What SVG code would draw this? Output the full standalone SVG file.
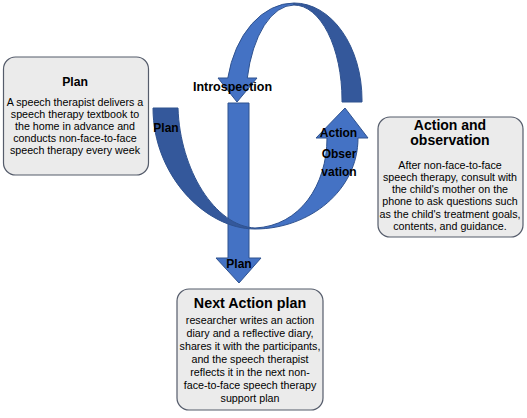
<svg xmlns="http://www.w3.org/2000/svg" width="527" height="418" viewBox="0 0 527 418">
<style>
.box{fill:#EBEBEB;stroke:#555C6B;stroke-width:1.2}
.lt{fill:#4472C4;stroke:#2F528F;stroke-width:1}
.dk{fill:#34589B;stroke:#2F528F;stroke-width:1}
text{font-family:"Liberation Sans",Arial,sans-serif;fill:#000;text-anchor:middle}
.t{font-weight:bold}
.b{font-size:10.7px}
.lbl{font-weight:bold;font-size:12px}
</style>
<rect width="527" height="418" fill="#fff"/>
<g id="connectors">
  <path class="lt" d="M228,103 H249 V258 H261 L239,283 L216,258 H228 Z"/>
  <path class="lt" d="M294,3 A68,97 0 0 0 227.8,78 L218,78 L237,102 L257,78 L247.3,78 A48,95 0 0 1 294,5 Z"/>
  <path class="dk" d="M294,3 A68,97 0 0 1 362,100 L362,102 L342,102 L342,100 A48,95 0 0 0 294,5 Z"/>
  <path class="dk" d="M153,108 L178,108 C180,170 215,226 255,228 L255,229 C205,229 153,175 153,108 Z"/>
  <path class="lt" d="M255,229 C310,229 358,190 358,138 L368,138 L345,108 L316,138 L327,138 C327,185 300,226 255,228 Z"/>
  <text class="lbl" x="232.5" y="90.5" style="font-size:12.5px">Introspection</text>
  <text class="lbl" x="166" y="131.5">Plan</text>
  <text class="lbl" x="338.5" y="137">Action</text>
  <text class="lbl" x="339" y="157.5">Obser</text>
  <text class="lbl" x="339" y="175.5">vation</text>
  <text class="lbl" x="239" y="267.5">Plan</text>
</g>
<g id="plan">
  <rect class="box" x="3.5" y="57" width="145" height="118" rx="12"/>
  <text class="t" x="75" y="86" style="font-size:12.2px">Plan</text>
  <text class="b" x="75" y="105.5">A speech therapist delivers a</text>
  <text class="b" x="75" y="117.5">speech therapy textbook to</text>
  <text class="b" x="75" y="129.7">the home in advance and</text>
  <text class="b" x="75" y="141.8">conducts non-face-to-face</text>
  <text class="b" x="75" y="153.9">speech therapy every week</text>
</g>
<g id="action">
  <rect class="box" x="378" y="117" width="145" height="120" rx="12"/>
  <text class="t" x="450" y="130" style="font-size:14px">Action and</text>
  <text class="t" x="450" y="145" style="font-size:14px">observation</text>
  <text class="b" x="450" y="168.8">After non-face-to-face</text>
  <text class="b" x="450" y="181">speech therapy, consult with</text>
  <text class="b" x="450" y="193.2">the child's mother on the</text>
  <text class="b" x="450" y="205.4">phone to ask questions such</text>
  <text class="b" x="450" y="217.6">as the child's treatment goals,</text>
  <text class="b" x="450" y="229.8">contents, and guidance.</text>
</g>
<g id="next">
  <rect class="box" x="177" y="289" width="146" height="121" rx="12"/>
  <text class="t" x="250" y="308" style="font-size:14.3px">Next Action plan</text>
  <text class="b" x="250" y="324">researcher writes an action</text>
  <text class="b" x="250" y="337">diary and a reflective diary,</text>
  <text class="b" x="250" y="350">shares it with the participants,</text>
  <text class="b" x="250" y="363">and the speech therapist</text>
  <text class="b" x="250" y="376">reflects it in the next non-</text>
  <text class="b" x="250" y="389">face-to-face speech therapy</text>
  <text class="b" x="250" y="402">support plan</text>
</g>
</svg>
